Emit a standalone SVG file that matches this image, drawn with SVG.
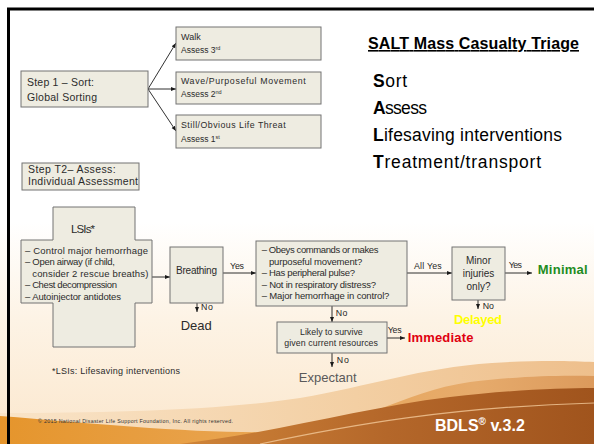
<svg xmlns="http://www.w3.org/2000/svg" width="594" height="444" viewBox="0 0 594 444">
<style>
.box{fill:#eeece1;stroke:#737373;stroke-width:1}
.t{font-family:"Liberation Sans",Arial,sans-serif;fill:#2b2b2b}
.lbl{font-family:"Liberation Sans",Arial,sans-serif;fill:#262626;font-size:8.8px}
.con{fill:none;stroke:#1a1a1a;stroke-width:0.9}
.res{font-family:"Liberation Sans",Arial,sans-serif;font-weight:bold;font-size:13px}
</style>
<defs>
<marker id="arr" viewBox="0 0 10 10" refX="10" refY="5" markerWidth="5" markerHeight="5" markerUnits="userSpaceOnUse" orient="auto-start-reverse">
<path d="M0,1 L10,5 L0,9 z" fill="#1a1a1a"/>
</marker>
<linearGradient id="bg" x1="0" y1="0" x2="0" y2="1">
<stop offset="0" stop-color="#ffffff"/>
<stop offset="0.5" stop-color="#ffffff"/>
<stop offset="0.72" stop-color="#fdf3e5"/>
<stop offset="1" stop-color="#fbe7cd"/>
</linearGradient>
<linearGradient id="pale" x1="0" y1="0" x2="1" y2="0">
<stop offset="0" stop-color="#f9e4c8"/>
<stop offset="0.6" stop-color="#f3cfa3"/>
<stop offset="1" stop-color="#eebf8c"/>
</linearGradient>
<linearGradient id="mid" x1="0" y1="0" x2="1" y2="0">
<stop offset="0" stop-color="#e5952c"/>
<stop offset="0.45" stop-color="#e9a552"/>
<stop offset="0.8" stop-color="#e6ab6c"/>
<stop offset="1" stop-color="#dc9a5c"/>
</linearGradient>
<linearGradient id="brown" x1="0" y1="0" x2="1" y2="0">
<stop offset="0" stop-color="#cf8438"/>
<stop offset="0.5" stop-color="#b4672a"/>
<stop offset="1" stop-color="#a0541d"/>
</linearGradient>
</defs>

<g id="background">
<rect x="0" y="0" width="594" height="444" fill="url(#bg)"/>
<path d="M0,413 C110,413 220,410 300,398 C370,386 420,368 492,363 C540,360 570,361 594,362 V444 H0 Z" fill="url(#pale)"/>
<path d="M0,416 C100,424 200,434 280,432 C360,428 400,392 470,382 C520,376 560,375 594,376 V444 H0 Z" fill="url(#mid)"/>
<path d="M180,444 C280,432 360,408 450,397 C510,390 560,388 594,388 V444 Z" fill="url(#brown)"/>
<path d="M260,444 C350,425 450,407 594,403" fill="none" stroke="#f2c99a" stroke-width="1.2" opacity="0.8"/>
<path d="M8.5,444 V9 H594" fill="none" stroke="#000" stroke-width="3"/>
</g>

<g id="connectors">
<path class="con" d="M148,89 L176,43" marker-end="url(#arr)"/>
<path class="con" d="M148,89 L176,89" marker-end="url(#arr)"/>
<path class="con" d="M148,89 L176,131" marker-end="url(#arr)"/>
<path class="con" d="M147,277 L170,277" marker-start="url(#arr)" marker-end="url(#arr)"/>
<path class="con" d="M223,273 L256,273" marker-end="url(#arr)"/>
<path class="con" d="M197,303 L197,312" marker-end="url(#arr)"/>
<path class="con" d="M407,273 L452,273" marker-end="url(#arr)"/>
<path class="con" d="M505,273 L532,273" marker-end="url(#arr)"/>
<path class="con" d="M478,300 L478,309" marker-end="url(#arr)"/>
<path class="con" d="M332,306 L332,322" marker-end="url(#arr)"/>
<path class="con" d="M387,338 L405,338" marker-end="url(#arr)"/>
<path class="con" d="M332,353 L332,367" marker-end="url(#arr)"/>
<text class="lbl" x="230" y="269" textLength="14">Yes</text>
<text class="lbl" x="201" y="309.5" textLength="12">No</text>
<text class="lbl" x="414" y="269.3" textLength="27.7">All Yes</text>
<text class="lbl" x="508.7" y="268" textLength="13.3">Yes</text>
<text class="lbl" x="482.7" y="309.3" textLength="11.3">No</text>
<text class="lbl" x="335.7" y="315.7" textLength="11.7">No</text>
<text class="lbl" x="387.7" y="333" textLength="14">Yes</text>
<text class="lbl" x="336.7" y="362.7" textLength="12.3">No</text>
</g>

<g id="title">
<text class="t" x="368" y="49" font-size="16" font-weight="bold" text-decoration="underline" textLength="211" style="fill:#000">SALT Mass Casualty Triage</text>
</g>

<g id="salt-list" class="t" font-size="17.5">
<text x="373" y="87" textLength="34" style="fill:#000"><tspan font-weight="bold">S</tspan>ort</text>
<text x="373" y="114" textLength="54" style="fill:#000"><tspan font-weight="bold">A</tspan>ssess</text>
<text x="373" y="141" textLength="189" style="fill:#000"><tspan font-weight="bold">L</tspan>ifesaving interventions</text>
<text x="373" y="168" textLength="168" style="fill:#000"><tspan font-weight="bold">T</tspan>reatment/transport</text>
</g>

<g id="step1">
<rect class="box" x="21" y="71" width="127" height="36"/>
<text class="t" x="27" y="86" font-size="10.5" textLength="67">Step 1 – Sort:</text>
<text class="t" x="27" y="101" font-size="10.5" textLength="70">Global Sorting</text>
</g>

<g id="walk">
<rect class="box" x="176" y="27" width="145" height="33"/>
<text class="t" x="181" y="39.5" font-size="9">Walk</text>
<text class="t" x="181" y="53" font-size="8.5">Assess 3<tspan font-size="5.5" dy="-3">rd</tspan></text>
</g>

<g id="wave">
<rect class="box" x="176" y="72" width="145" height="32"/>
<text class="t" x="181" y="83.5" font-size="8.8" textLength="124.7">Wave/Purposeful Movement</text>
<text class="t" x="181" y="97" font-size="8.5">Assess 2<tspan font-size="5.5" dy="-3">nd</tspan></text>
</g>

<g id="still">
<rect class="box" x="176" y="115" width="145" height="33"/>
<text class="t" x="181" y="128" font-size="8.8" textLength="104.7">Still/Obvious Life Threat</text>
<text class="t" x="181" y="142" font-size="8.5">Assess 1<tspan font-size="5.5" dy="-3">st</tspan></text>
</g>

<g id="step2">
<rect class="box" x="22" y="163" width="117" height="27"/>
<text class="t" x="28" y="172.5" font-size="10.5" textLength="87.7">Step T2– Assess:</text>
<text class="t" x="28" y="185" font-size="10.5" textLength="110">Individual Assessment</text>
</g>

<g id="lsis">
<path class="box" d="M53,207 H135 V240 H152 V303 H135 V347 H53 V303 H21 V240 H53 Z"/>
<text class="t" x="71" y="233" font-size="11.5" textLength="24">LSIs*</text>
<text class="t" x="25" y="253.5" font-size="9.5" textLength="123">– Control major hemorrhage</text>
<text class="t" x="25" y="265" font-size="9.5" textLength="90">– Open airway (if child,</text>
<text class="t" x="32.3" y="276.5" font-size="9.5" textLength="116">consider 2 rescue breaths)</text>
<text class="t" x="25" y="288" font-size="9.5" textLength="92">– Chest decompression</text>
<text class="t" x="25" y="299.5" font-size="9.5" textLength="96">– Autoinjector antidotes</text>
</g>

<g id="breathing">
<rect class="box" x="170" y="247" width="53" height="56"/>
<text class="t" x="176" y="274.3" font-size="10" textLength="41">Breathing</text>
</g>

<g id="dead">
<text class="t" x="180.7" y="330" font-size="13" textLength="31">Dead</text>
</g>

<g id="assess-questions">
<rect class="box" x="256" y="241" width="151" height="65"/>
<text class="t" x="261.7" y="253" font-size="9.5" textLength="116.7">– Obeys commands or makes</text>
<text class="t" x="269" y="264.5" font-size="9.5" textLength="93.3">purposeful movement?</text>
<text class="t" x="261.7" y="276" font-size="9.5" textLength="93.3">– Has peripheral pulse?</text>
<text class="t" x="261.7" y="287.5" font-size="9.5" textLength="114.3">– Not in respiratory distress?</text>
<text class="t" x="261.7" y="299" font-size="9.5" textLength="127.7">– Major hemorrhage in control?</text>
</g>

<g id="minor">
<rect class="box" x="452" y="247" width="53" height="53"/>
<text class="t" x="478.5" y="263.5" font-size="10" text-anchor="middle" textLength="25">Minor</text>
<text class="t" x="478.5" y="276.5" font-size="10" text-anchor="middle" textLength="31.7">injuries</text>
<text class="t" x="478.5" y="290" font-size="10" text-anchor="middle" textLength="24">only?</text>
</g>

<g id="minimal">
<text class="res" x="537.7" y="274.3" fill="#1e8c1e" textLength="50">Minimal</text>
</g>

<g id="delayed">
<text class="res" x="454" y="324.3" fill="#ffff00" textLength="48">Delayed</text>
</g>

<g id="likely">
<rect class="box" x="277" y="322" width="110" height="31"/>
<text class="t" x="300" y="335" font-size="8.8" textLength="62.7">Likely to survive</text>
<text class="t" x="284.3" y="346" font-size="8.8" textLength="93.7">given current resources</text>
</g>

<g id="immediate">
<text class="res" x="407.7" y="342.3" fill="#e0000f" textLength="65.7">Immediate</text>
</g>

<g id="expectant">
<text class="t" x="298.7" y="381.7" font-size="13" textLength="58" style="fill:#595959">Expectant</text>
</g>

<g id="footer">
<text class="t" x="52" y="374.3" font-size="9" textLength="128">*LSIs: Lifesaving interventions</text>
<text class="t" x="38" y="422.7" font-size="5.3" textLength="195" style="fill:#333">© 2015 National Disaster Life Support Foundation, Inc. All rights reserved.</text>
<text x="435" y="430.7" font-family="'Liberation Sans',Arial,sans-serif" font-weight="bold" font-size="16" fill="#ffffff">BDLS<tspan font-size="10" dy="-6">®</tspan><tspan dy="6"> v.3.2</tspan></text>
</g>
</svg>
